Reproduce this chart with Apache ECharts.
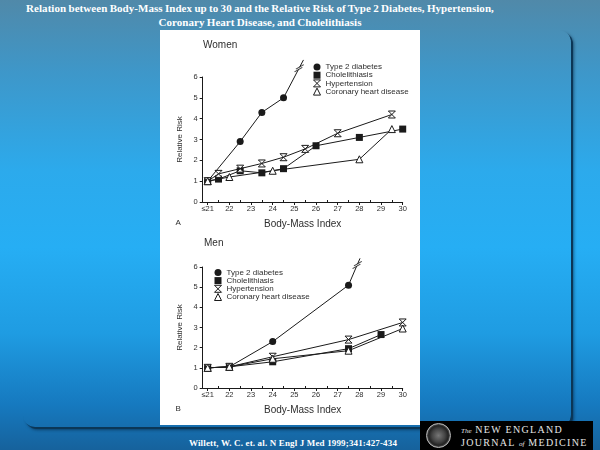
<!DOCTYPE html>
<html><head><meta charset="utf-8">
<script src="https://cdn.jsdelivr.net/npm/echarts@6/dist/echarts.min.js"></script>
<style>
html,body{margin:0;padding:0;width:600px;height:450px;overflow:hidden;}
#bg{position:absolute;left:0;top:0;width:600px;height:450px;
 background:linear-gradient(180deg,#5089a9 0%,#3e97c9 16%,#2caaec 38%,#26aef4 55%,#1f9ce2 74%,#1679bf 90%,#16629c 100%);}
#frame{position:absolute;left:23px;top:30px;width:548px;height:397px;border-radius:12px;
 box-shadow:2px 2px 0 #0b3656,3px 3px 3px rgba(0,20,40,0.5);}
#white{position:absolute;left:160px;top:30px;width:260px;height:395px;background:#fff;}
#title{position:absolute;left:0;top:1px;width:520px;text-align:center;color:#fff;
 font:bold 11px/14px "Liberation Serif";letter-spacing:0.05px;word-spacing:-0.5px;}
#cite{position:absolute;left:160px;top:437px;width:266px;text-align:center;color:#fff;
 font:bold 9px/12px "Liberation Serif";letter-spacing:0.15px;}
#nejm{position:absolute;left:420px;top:421px;width:173px;height:29px;background:#000;}
#logo{position:absolute;left:6px;top:2px;width:23px;height:23px;border-radius:50%;border:1.5px solid #bbb;
 background:radial-gradient(circle,#777 0,#444 40%,#222 60%,#666 75%,#222 85%);}
#nt{position:absolute;left:41px;top:3px;color:#e6e6e6;font:10px/11px "Liberation Serif";letter-spacing:1.3px;white-space:nowrap;}
#nt i{font-size:7px;letter-spacing:0;}
#chart{position:absolute;left:0;top:0;width:600px;height:450px;}
</style></head>
<body>
<div id="bg"></div>
<div id="frame"></div>
<div id="white"></div>
<div id="title">Relation between Body-Mass Index up to 30 and the Relative Risk of Type 2 Diabetes, Hypertension,<br>Coronary Heart Disease, and Cholelithiasis</div>
<div id="cite">Willett, W. C. et. al. N Engl J Med 1999;341:427-434</div>
<div id="nejm"><div id="logo"></div><div id="nt"><i>The</i> NEW ENGLAND<br>JOURNAL <i>of</i> MEDICINE</div></div>
<div id="chart"></div>
<script>
// ---- tick labels / categories ----
const xTickValues = [21, 22, 23, 24, 25, 26, 27, 28, 29, 30];
const xHalfTicks = [21.5, 22.5, 23.5, 24.5, 25.5, 26.5, 27.5, 28.5, 29.5];
const seriesNames = ['Type 2 diabetes', 'Cholelithiasis', 'Hypertension', 'Coronary heart disease'];

// ---- Women (A) ----
const womenDiabetesBMI = [21, 22.5, 23.5, 24.5, 25.42];
const womenDiabetesRR  = [1.0, 2.9, 4.3, 5.0, 6.82];   // last point: off-scale continuation
const womenCholeBMI = [21, 21.5, 22.5, 23.5, 24.5, 26, 28, 30];
const womenCholeRR  = [1.0, 1.1, 1.5, 1.4, 1.6, 2.7, 3.1, 3.5];
const womenHyperBMI = [21, 21.5, 22.5, 23.5, 24.5, 25.5, 27, 29.5];
const womenHyperRR  = [1.0, 1.35, 1.6, 1.85, 2.15, 2.55, 3.3, 4.2];
const womenCoronaryBMI = [21, 22, 24, 28, 29.5];
const womenCoronaryRR  = [1.0, 1.2, 1.5, 2.05, 3.5];
const womenBreak = [25.22, 6.42];

// ---- Men (B) ----
const menDiabetesBMI = [21, 22, 24, 27.5, 28.03];
const menDiabetesRR  = [1.0, 1.05, 2.3, 5.1, 6.43];    // last point: off-scale continuation
const menCholeBMI = [21, 22, 24, 27.5, 29];
const menCholeRR  = [1.0, 1.05, 1.3, 1.95, 2.65];
const menHyperBMI = [21, 22, 24, 27.5, 30];
const menHyperRR  = [1.0, 1.05, 1.55, 2.4, 3.25];
const menCoronaryBMI = [21, 22, 24, 27.5, 30];
const menCoronaryRR  = [1.0, 1.05, 1.45, 1.85, 2.95];
const menBreak = [27.9, 6.1];

const INK = '#1a1a1a', TXT = '#2e2e2e', FONT = 'Liberation Sans';
const HOURGLASS = 'path://M0,0L10,0L0,10L10,10Z';
const BREAK_FILL = 'path://M0,7.1L7.8,2.6L9.2,0L1.4,4.5Z';
const BREAK_LINES = 'path://M0,7.1L7.8,2.6M1.4,4.5L9.2,0';

function pairs(xs, ys, offscaleLast) {
  return xs.map((x, i) => (offscaleLast && i === xs.length - 1)
    ? { value: [x, ys[i]], symbol: 'none' } : [x, ys[i]]);
}

const markerStyles = [
  { symbol: 'circle', symbolSize: 7, itemStyle: { color: INK } },
  { symbol: 'rect', symbolSize: 7, itemStyle: { color: INK } },
  { symbol: HOURGLASS, symbolSize: [7, 7], itemStyle: { color: '#fff', borderColor: INK, borderWidth: 1 } },
  { symbol: 'triangle', symbolSize: 7, itemStyle: { color: '#fff', borderColor: INK, borderWidth: 1 } }
];

function lineSeries(idx, name, xs, ys, offscale) {
  const m = markerStyles[seriesNames.indexOf(name)];
  return Object.assign({
    type: 'line', name, xAxisIndex: idx * 2, yAxisIndex: idx, clip: false,
    data: pairs(xs, ys, offscale), lineStyle: { color: INK, width: 1 }, z: 3
  }, m);
}
function breakSeries(idx, pt) {
  return [
    { type: 'scatter', xAxisIndex: idx * 2, yAxisIndex: idx, clip: false, data: [pt], z: 5,
      symbol: BREAK_FILL, symbolSize: [9.2, 7.1], itemStyle: { color: '#fff', opacity: 1 }, silent: true },
    { type: 'scatter', xAxisIndex: idx * 2, yAxisIndex: idx, clip: false, data: [pt], z: 6,
      symbol: BREAK_LINES, symbolSize: [9.2, 7.1], itemStyle: { color: 'transparent', borderColor: INK, borderWidth: 1 }, silent: true }
  ];
}

const grids = [
  { left: 202.7, top: 77, width: 200, height: 125 },
  { left: 202.7, top: 267, width: 200, height: 121 }
];

const xAxes = [], yAxes = [];
grids.forEach((g, i) => {
  xAxes.push({
    gridIndex: i, type: 'value', min: 20.77, max: 30, position: 'bottom',
    name: 'Body-Mass Index', nameLocation: 'middle', nameGap: 17,
    nameTextStyle: { fontFamily: FONT, fontSize: 10, color: TXT },
    axisLine: { show: true, lineStyle: { color: INK, width: 1 } },
    axisTick: { show: true, length: 3, lineStyle: { color: INK }, customValues: xTickValues },
    axisLabel: { customValues: xTickValues, margin: 3, fontFamily: FONT, fontSize: 7.5, color: TXT,
      formatter: v => (v === 21 ? '\u226421' : String(v)) },
    splitLine: { show: false }
  });
  xAxes.push({
    gridIndex: i, type: 'value', min: 20.77, max: 30, position: 'bottom',
    axisLine: { show: false },
    axisTick: { show: true, inside: true, length: 2, lineStyle: { color: INK }, customValues: xHalfTicks },
    axisLabel: { show: false }, splitLine: { show: false }
  });
  yAxes.push({
    gridIndex: i, type: 'value', min: 0, max: 6, interval: 1,
    name: 'Relative Risk', nameLocation: 'middle', nameGap: 19,
    nameTextStyle: { fontFamily: FONT, fontSize: 8, color: TXT },
    axisLine: { show: true, lineStyle: { color: INK, width: 1 } },
    axisTick: { show: true, length: 3, lineStyle: { color: INK } },
    axisLabel: { margin: 5, fontFamily: FONT, fontSize: 7.5, color: TXT },
    splitLine: { show: false }
  });
});

function legendData() {
  return seriesNames.map((n, i) => {
    const m = markerStyles[i];
    return { name: n, icon: m.symbol, itemStyle: Object.assign({}, m.itemStyle) };
  });
}

const option = {
  animation: false,
  textStyle: { fontFamily: FONT },
  title: [
    { text: 'Women', left: 198, top: 35, textStyle: { fontFamily: FONT, fontSize: 10, fontWeight: 'normal', color: TXT } },
    { text: 'Men', left: 199, top: 233.5, textStyle: { fontFamily: FONT, fontSize: 10, fontWeight: 'normal', color: TXT } },
    { text: 'A', left: 170.5, top: 213.5, textStyle: { fontFamily: FONT, fontSize: 8, fontWeight: 'normal', color: TXT } },
    { text: 'B', left: 170.5, top: 399.5, textStyle: { fontFamily: FONT, fontSize: 8, fontWeight: 'normal', color: TXT } }
  ],
  legend: [
    { orient: 'vertical', left: 308, top: 58, itemWidth: 7, itemHeight: 7, itemGap: 0.2, selectedMode: false,
      textStyle: { fontFamily: FONT, fontSize: 8, color: TXT, lineHeight: 7 }, data: legendData() },
    { orient: 'vertical', left: 209, top: 263.4, itemWidth: 7, itemHeight: 7, itemGap: 0.2, selectedMode: false,
      textStyle: { fontFamily: FONT, fontSize: 8, color: TXT, lineHeight: 7 }, data: legendData() }
  ],
  grid: grids,
  xAxis: xAxes,
  yAxis: yAxes,
  series: [
    lineSeries(0, 'Type 2 diabetes', womenDiabetesBMI, womenDiabetesRR, true),
    lineSeries(0, 'Cholelithiasis', womenCholeBMI, womenCholeRR, false),
    lineSeries(0, 'Hypertension', womenHyperBMI, womenHyperRR, false),
    lineSeries(0, 'Coronary heart disease', womenCoronaryBMI, womenCoronaryRR, false),
    ...breakSeries(0, womenBreak),
    lineSeries(1, 'Type 2 diabetes', menDiabetesBMI, menDiabetesRR, true),
    lineSeries(1, 'Cholelithiasis', menCholeBMI, menCholeRR, false),
    lineSeries(1, 'Hypertension', menHyperBMI, menHyperRR, false),
    lineSeries(1, 'Coronary heart disease', menCoronaryBMI, menCoronaryRR, false),
    ...breakSeries(1, menBreak)
  ]
};
const chart = echarts.init(document.getElementById('chart'), null, { renderer: 'canvas' });
chart.setOption(option);
</script>
</body></html>
